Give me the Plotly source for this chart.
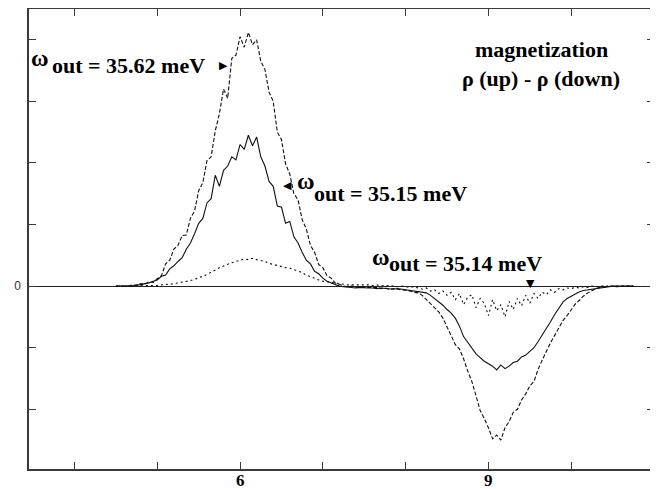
import plotly.graph_objects as go

# sample positions along the horizontal axis
X = [4.50, 4.55, 4.60, 4.65, 4.70, 4.75, 4.80, 4.85, 4.90, 4.95,
     5.00, 5.05, 5.10, 5.15, 5.20, 5.25, 5.30, 5.35, 5.40, 5.45,
     5.50, 5.55, 5.60, 5.65, 5.70, 5.75, 5.80, 5.85, 5.90, 5.95,
     6.00, 6.05, 6.10, 6.15, 6.20, 6.25, 6.30, 6.35, 6.40, 6.45,
     6.50, 6.55, 6.60, 6.65, 6.70, 6.75, 6.80, 6.85, 6.90, 6.95,
     7.00, 7.05, 7.10, 7.15, 7.20, 7.25, 7.30, 7.35, 7.40, 7.45,
     7.50, 7.55, 7.60, 7.65, 7.70, 7.75, 7.80, 7.85, 7.90, 7.95,
     8.00, 8.05, 8.10, 8.15, 8.20, 8.25, 8.30, 8.35, 8.40, 8.45,
     8.50, 8.55, 8.60, 8.65, 8.70, 8.75, 8.80, 8.85, 8.90, 8.95,
     9.00, 9.05, 9.10, 9.15, 9.20, 9.25, 9.30, 9.35, 9.40, 9.45,
     9.50, 9.55, 9.60, 9.65, 9.70, 9.75, 9.80, 9.85, 9.90, 9.95,
     10.00, 10.05, 10.10, 10.15, 10.20, 10.25, 10.30, 10.35, 10.40, 10.45,
     10.50, 10.55, 10.60, 10.65, 10.70, 10.75]

# omega_out = 35.62 meV (dashed)
M_3562 = [0.00, 0.00, 0.01, 0.00, 0.02, 0.01, 0.04, 0.03, 0.07, 0.06,
          0.12, 0.17, 0.36, 0.42, 0.60, 0.66, 0.82, 0.83, 1.10, 1.22,
          1.55, 1.68, 2.04, 2.10, 2.52, 2.80, 3.20, 3.05, 3.70, 3.75,
          4.05, 3.88, 4.12, 3.92, 4.00, 3.65, 3.52, 3.15, 3.00, 2.50,
          2.38, 1.98, 1.82, 1.50, 1.40, 1.08, 0.93, 0.66, 0.55, 0.35,
          0.30, 0.17, 0.13, 0.05, 0.03, 0.00, -0.01, 0.00, -0.02, -0.01,
          -0.02, -0.02, -0.03, -0.02, -0.04, -0.03, -0.05, -0.04, -0.05, -0.06,
          -0.06, -0.08, -0.10, -0.11, -0.15, -0.22, -0.28, -0.35, -0.42, -0.52,
          -0.66, -0.80, -0.95, -1.02, -1.18, -1.38, -1.55, -1.78, -2.02, -2.15,
          -2.30, -2.48, -2.42, -2.50, -2.30, -2.20, -2.05, -2.00, -1.85, -1.75,
          -1.62, -1.55, -1.35, -1.20, -1.05, -0.92, -0.80, -0.68, -0.56, -0.48,
          -0.38, -0.29, -0.23, -0.16, -0.11, -0.07, -0.04, -0.02, -0.01, 0.00,
          0.00, -0.01, 0.00, 0.00, 0.00, 0.00]

# omega_out = 35.15 meV (solid)
M_3515 = [0.00, 0.00, 0.00, 0.01, 0.00, 0.02, 0.02, 0.04, 0.05, 0.08,
          0.10, 0.16, 0.18, 0.28, 0.33, 0.40, 0.46, 0.60, 0.70, 0.85,
          1.02, 1.10, 1.35, 1.42, 1.80, 1.62, 1.88, 1.95, 2.10, 2.05,
          2.30, 2.22, 2.45, 2.28, 2.42, 2.10, 1.95, 1.70, 1.62, 1.30,
          1.28, 1.02, 1.05, 0.80, 0.70, 0.55, 0.42, 0.36, 0.24, 0.20,
          0.13, 0.08, 0.05, 0.02, 0.00, -0.01, -0.02, -0.02, -0.03, -0.02,
          -0.03, -0.03, -0.03, -0.04, -0.03, -0.04, -0.04, -0.05, -0.04, -0.05,
          -0.05, -0.06, -0.07, -0.08, -0.09, -0.11, -0.15, -0.20, -0.25, -0.31,
          -0.38, -0.44, -0.52, -0.65, -0.82, -0.92, -1.02, -1.10, -1.16, -1.22,
          -1.26, -1.30, -1.36, -1.28, -1.34, -1.30, -1.24, -1.22, -1.15, -1.12,
          -1.06, -1.00, -0.90, -0.80, -0.68, -0.58, -0.46, -0.36, -0.26, -0.20,
          -0.16, -0.12, -0.09, -0.07, -0.06, -0.04, -0.03, -0.02, -0.01, 0.00,
          0.00, 0.00, 0.00, 0.00, 0.00, 0.00]

# omega_out = 35.14 meV (dotted)
M_3514 = [0.00, 0.00, 0.00, 0.00, 0.00, 0.00, 0.01, 0.00, 0.01, 0.01,
          0.01, 0.02, 0.02, 0.03, 0.04, 0.05, 0.06, 0.08, 0.09, 0.11,
          0.13, 0.16, 0.19, 0.22, 0.26, 0.30, 0.33, 0.35, 0.38, 0.40,
          0.42, 0.44, 0.43, 0.45, 0.43, 0.42, 0.40, 0.37, 0.35, 0.34,
          0.31, 0.30, 0.29, 0.27, 0.25, 0.22, 0.18, 0.15, 0.13, 0.10,
          0.08, 0.07, 0.05, 0.04, 0.03, 0.03, 0.02, 0.02, 0.02, 0.03,
          0.02, 0.02, 0.01, 0.02, 0.01, 0.00, 0.01, 0.00, -0.01, 0.00,
          -0.01, -0.02, -0.01, -0.03, -0.05, -0.03, -0.08, -0.06, -0.12, -0.08,
          -0.15, -0.10, -0.22, -0.12, -0.30, -0.18, -0.14, -0.35, -0.20, -0.28,
          -0.48, -0.22, -0.40, -0.30, -0.50, -0.25, -0.38, -0.20, -0.32, -0.15,
          -0.28, -0.12, -0.20, -0.10, -0.14, -0.06, -0.10, -0.04, -0.06, -0.03,
          -0.04, -0.02, -0.03, -0.01, -0.02, 0.00, -0.01, 0.00, 0.00, 0.00,
          0.00, 0.00, 0.00, 0.00, 0.00, 0.00]

X_TICKS = [4, 5, 6, 7, 8, 9, 10]
X_LABELED = [6, 9]
Y_TICKS = [-2, -1, 0, 1, 2, 3, 4]
Y_TICK_TEXT = ["", "", "0", "", "", "", ""]

SERIF = "Liberation Serif"
AX = "#3a3a3a"

fig = go.Figure()
fig.add_trace(go.Scatter(x=X, y=M_3562, mode="lines",
                         line=dict(color="#111", width=1.1, dash="4px,2px")))
fig.add_trace(go.Scatter(x=X, y=M_3515, mode="lines",
                         line=dict(color="#111", width=1.1)))
fig.add_trace(go.Scatter(x=X, y=M_3514, mode="lines",
                         line=dict(color="#111", width=1.1, dash="2px,3px")))

def txt(x, y, s, size=22, xanchor="left", family=SERIF):
    fig.add_annotation(x=x, y=y, xref="x", yref="y", text=s, showarrow=False,
                       xanchor=xanchor, yanchor="middle",
                       font=dict(family=family, size=size, color="black"))

# label 35.62
txt(3.45, 3.71, "<b>ω</b>", size=24)
txt(3.70, 3.59, "<b>out = 35.62 meV</b>", size=22)
txt(5.72, 3.59, "▶", size=11, family="DejaVu Sans")
# label 35.15
txt(6.50, 1.63, "◀", size=11, family="DejaVu Sans")
txt(6.66, 1.71, "<b>ω</b>", size=24)
txt(6.87, 1.51, "<b>out = 35.15 meV</b>", size=22)
# label 35.14
txt(7.57, 0.47, "<b>ω</b>", size=24)
txt(7.78, 0.374, "<b>out = 35.14 meV</b>", size=22)
txt(9.506, 0.05, "▼", size=11, xanchor="center", family="DejaVu Sans")
# title block
txt(9.64, 3.84, "<b>magnetization</b>", size=22, xanchor="center")
txt(9.63, 3.37, "<b>ρ (up) - ρ (down)</b>", size=22, xanchor="center")

# bold x tick labels, placed just under the axis
for v in X_LABELED:
    fig.add_annotation(x=v, y=-0.024, xref="x", yref="paper", text="<b>%d</b>" % v,
                       showarrow=False, xanchor="center", yanchor="middle",
                       font=dict(family=SERIF, size=17, color="black"))

# the page body adds an 8 px offset, so the figure is sized to fit inside it
fig.update_layout(
    width=650, height=481,
    margin=dict(l=21, r=4, t=1, b=20),
    paper_bgcolor="white", plot_bgcolor="white",
    showlegend=False,
    font=dict(family=SERIF),
    xaxis=dict(range=[3.45, 11.0], tickvals=X_TICKS, showticklabels=False,
               ticks="inside", ticklen=7, tickwidth=1, tickcolor=AX,
               showline=True, linecolor=AX, linewidth=1.6, mirror="ticks",
               showgrid=False, zeroline=False, automargin=False),
    yaxis=dict(range=[-2.97, 4.5], tickvals=Y_TICKS, ticktext=Y_TICK_TEXT,
               ticks="inside", ticklen=7, tickwidth=1, tickcolor=AX,
               showline=True, linecolor=AX, linewidth=1.5, mirror="ticks",
               showgrid=False, zeroline=True, zerolinecolor="#222", zerolinewidth=1,
               automargin=False, ticklabelstandoff=4,
               tickfont=dict(family="Liberation Sans", size=12, color="#333")),
)

fig.write_html("out.html")
